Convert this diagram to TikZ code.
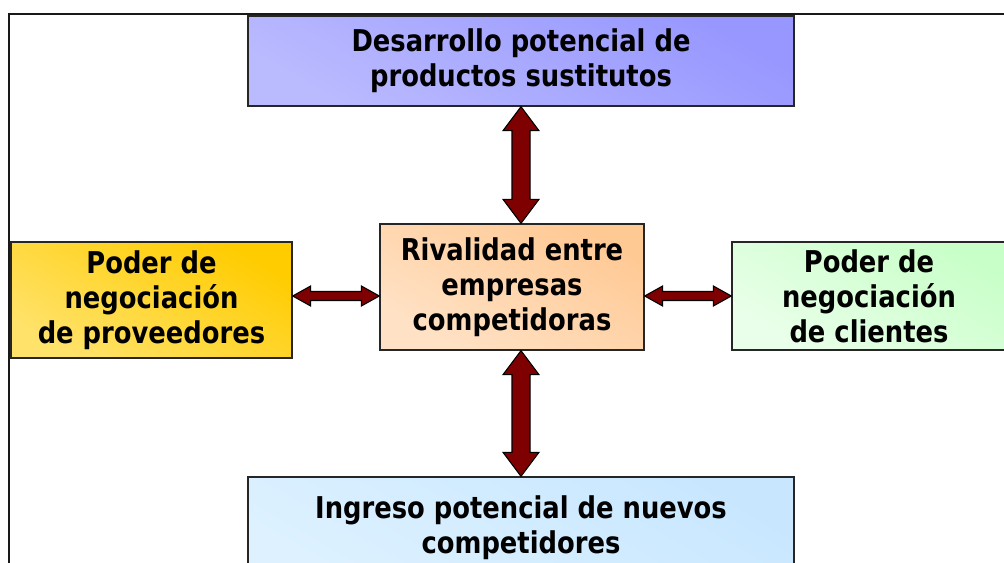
\documentclass[tikz,border=0pt]{standalone}
\usepackage{fontspec}
\setmainfont{DejaVu Sans}[FakeStretch=0.86]
\usetikzlibrary{calc}
\definecolor{arrowred}{HTML}{7F0000}
\definecolor{topA}{HTML}{BABAFF}
\definecolor{topB}{HTML}{9797FF}
\definecolor{cenA}{HTML}{FFE2C6}
\definecolor{cenB}{HTML}{FFC994}
\definecolor{lefA}{HTML}{FFE26A}
\definecolor{lefB}{HTML}{FFCC00}
\definecolor{rigA}{HTML}{EAFFEA}
\definecolor{rigB}{HTML}{C8FFC8}
\definecolor{botA}{HTML}{DDF1FF}
\definecolor{botB}{HTML}{C8E7FF}
\tikzset{
  box/.style={draw=black!85, line width=1pt, inner sep=0pt, align=center,
    font=\fontsize{22.5}{26.25}\selectfont\bfseries, text=black},
  grad/.style n args={2}{left color=#1, right color=#2, shading angle=150},
  fatarrow/.style={fill=arrowred, draw=black, line width=0.8pt, line join=miter},
  frameline/.style={draw=black!90, line width=1.6pt}
}
\begin{document}
\begin{tikzpicture}[x=0.75pt,y=-0.75pt]
\useasboundingbox (0,0) rectangle (1004,563);
\draw[frameline] (9,563) -- (9,14) -- (1004,14);

\node[box, grad={topA}{topB}, minimum width=409.5pt, minimum height=67.5pt] (top) at (521,61)
  {\raisebox{-2pt}{Desarrollo potencial de}\\\raisebox{-2pt}{productos sustitutos}};
\node[box, grad={cenA}{cenB}, minimum width=198pt, minimum height=94.5pt] (center) at (512,287)
  {\raisebox{-2pt}{Rivalidad entre}\\\raisebox{-2pt}{empresas}\\\raisebox{-2pt}{competidoras}};
\node[box, grad={lefA}{lefB}, minimum width=210.75pt, minimum height=87pt] (left) at (151.5,300)
  {\raisebox{-2pt}{Poder de}\\\raisebox{-2pt}{negociación}\\\raisebox{-2pt}{de proveedores}};
\node[box, grad={rigA}{rigB}, minimum width=205.5pt, minimum height=81pt] (right) at (869,296)
  {\raisebox{-2pt}{Poder de}\\\raisebox{-2pt}{negociación}\\\raisebox{-2pt}{de clientes}};
\node[box, grad={botA}{botB}, minimum width=409.5pt, minimum height=76.5pt] (bottom) at (521,528)
  {\raisebox{1.5pt}{Ingreso potencial de nuevos}\\\raisebox{1.5pt}{competidores}};

% vertical arrows
\coordinate (t1) at (top.south);
\coordinate (t2) at (top.south |- center.north);
\coordinate (b1) at (bottom.north |- center.south);
\coordinate (b2) at (bottom.north);
\filldraw[fatarrow] (t1) -- ($(t1)+(18,24)$) -- ($(t1)+(9,24)$) -- ($(t2)+(9,-24)$) -- ($(t2)+(18,-24)$)
  -- (t2) -- ($(t2)+(-18,-24)$) -- ($(t2)+(-9,-24)$) -- ($(t1)+(-9,24)$) -- ($(t1)+(-18,24)$) -- cycle;
\filldraw[fatarrow] (b1) -- ($(b1)+(18,24)$) -- ($(b1)+(9,24)$) -- ($(b2)+(9,-24)$) -- ($(b2)+(18,-24)$)
  -- (b2) -- ($(b2)+(-18,-24)$) -- ($(b2)+(-9,-24)$) -- ($(b1)+(-9,24)$) -- ($(b1)+(-18,24)$) -- cycle;

% horizontal arrows
\coordinate (hm) at (0,296);
\coordinate (l1) at (left.east |- hm);
\coordinate (l2) at (center.west |- hm);
\coordinate (r1) at (center.east |- hm);
\coordinate (r2) at (right.west |- hm);
\filldraw[fatarrow] (l1) -- ($(l1)+(18,-10)$) -- ($(l1)+(18,-4.5)$) -- ($(l2)+(-18,-4.5)$) -- ($(l2)+(-18,-10)$)
  -- (l2) -- ($(l2)+(-18,10)$) -- ($(l2)+(-18,4.5)$) -- ($(l1)+(18,4.5)$) -- ($(l1)+(18,10)$) -- cycle;
\filldraw[fatarrow] (r1) -- ($(r1)+(18,-10)$) -- ($(r1)+(18,-4.5)$) -- ($(r2)+(-18,-4.5)$) -- ($(r2)+(-18,-10)$)
  -- (r2) -- ($(r2)+(-18,10)$) -- ($(r2)+(-18,4.5)$) -- ($(r1)+(18,4.5)$) -- ($(r1)+(18,10)$) -- cycle;
\end{tikzpicture}
\end{document}
